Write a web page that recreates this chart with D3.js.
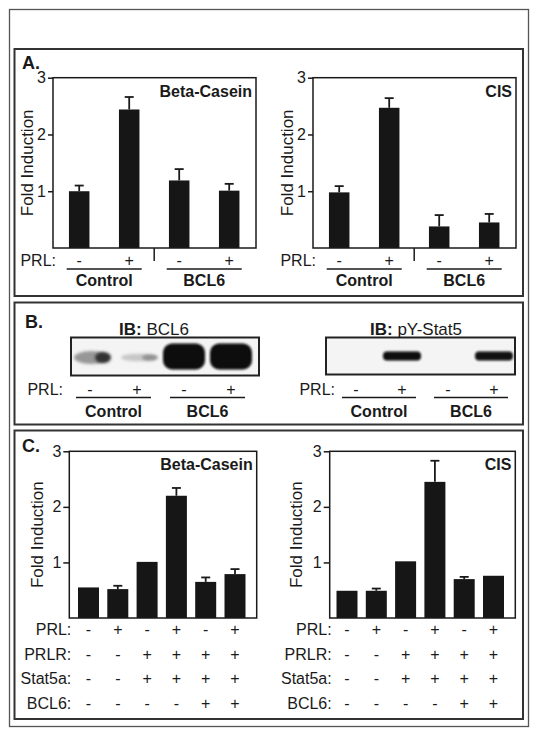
<!DOCTYPE html>
<html><head><meta charset="utf-8">
<script src="https://cdn.jsdelivr.net/npm/d3@7/dist/d3.min.js"></script>
<style>html,body{margin:0;padding:0;background:#fff}svg{display:block}</style>
</head><body>
<svg id="fig" width="538" height="736"></svg>
<script>
// ---------------- data ----------------
const yTicks = [1, 2, 3];
const groupNames = ["Control", "BCL6"];
const prlA = ["-", "+", "-", "+"];
const betaCaseinA = [1.00, 2.44, 1.19, 1.01];
const betaCaseinAErr = [0.10, 0.22, 0.20, 0.12];
const cisA = [0.98, 2.47, 0.38, 0.45];
const cisAErr = [0.11, 0.17, 0.20, 0.15];

const blotLanes = ["-", "+", "-", "+"];
const bcl6Blot = [0.45, 0.18, 1.0, 1.0];
const pStat5Blot = [0.0, 0.92, 0.0, 0.88];

const rowLabelsC = ["PRL:", "PRLR:", "Stat5a:", "BCL6:"];
const prlC = ["-", "+", "-", "+", "-", "+"];
const prlrC = ["-", "-", "+", "+", "+", "+"];
const stat5aC = ["-", "-", "+", "+", "+", "+"];
const bcl6C = ["-", "-", "-", "-", "+", "+"];
const betaCaseinC = [0.55, 0.52, 1.01, 2.20, 0.65, 0.79];
const betaCaseinCErr = [0, 0.06, 0, 0.14, 0.08, 0.09];
const cisC = [0.49, 0.49, 1.02, 2.45, 0.70, 0.76];
const cisCErr = [0, 0.04, 0, 0.38, 0.04, 0];

// ---------------- drawing ----------------
const svg = d3.select("#fig");
const FONT = "'Liberation Sans', Arial, Helvetica, sans-serif";
const INK = "#1a1a1a";

const defs = svg.append("defs");
defs.append("filter").attr("id", "b1").attr("x", "-20%").attr("y", "-50%").attr("width", "140%").attr("height", "200%")
  .append("feGaussianBlur").attr("stdDeviation", 1.0);
defs.append("filter").attr("id", "b2").attr("x", "-30%").attr("y", "-80%").attr("width", "160%").attr("height", "260%")
  .append("feGaussianBlur").attr("stdDeviation", 1.8);

svg.append("rect").attr("width", 538).attr("height", 736).attr("fill", "#fff");

function txt(x, y, s, o = {}) {
  return svg.append("text").attr("x", x).attr("y", y).text(s)
    .attr("font-family", FONT).attr("font-size", o.size || 16)
    .attr("font-weight", o.bold ? "bold" : "normal")
    .attr("text-anchor", o.anchor || "start").attr("fill", INK);
}
function hline(x1, x2, y, w = 1.5) {
  svg.append("line").attr("x1", x1).attr("x2", x2).attr("y1", y).attr("y2", y)
    .attr("stroke", INK).attr("stroke-width", w);
}

// outer border and panel frames
svg.append("rect").attr("x", 9.5).attr("y", 9.5).attr("width", 519).attr("height", 717)
  .attr("fill", "none").attr("stroke", "#555").attr("stroke-width", 1.3);
[[49, 296], [302.5, 424.5], [430.5, 719]].forEach(([t, b]) =>
  svg.append("rect").attr("x", 14.5).attr("y", t).attr("width", 508.5).attr("height", b - t)
    .attr("fill", "none").attr("stroke", "#333").attr("stroke-width", 2));

txt(22, 69, "A.", { bold: true, size: 18 });
txt(25, 327.5, "B.", { bold: true, size: 18 });
txt(22, 452, "C.", { bold: true, size: 18 });

function barChart(o) {
  const n = o.values.length;
  const p = 1 - o.bw / o.step;
  const x = d3.scaleBand().domain(d3.range(n))
    .range([o.c0 - o.step / 2, o.c0 - o.step / 2 + n * o.step])
    .paddingInner(p).paddingOuter(p / 2);
  const y = d3.scaleLinear().domain([0, 3]).range([o.bottom, o.top]);
  const g = svg.append("g");
  g.selectAll("rect.bar").data(o.values).join("rect").attr("class", "bar")
    .attr("x", (d, i) => x(i)).attr("width", x.bandwidth())
    .attr("y", d => y(d)).attr("height", d => y(0) - y(d)).attr("fill", "#161616");
  const eb = o.values.map((v, i) => ({ v, e: o.errs[i], i })).filter(d => d.e > 0);
  const cx = i => x(i) + x.bandwidth() / 2;
  g.selectAll("line.stem").data(eb).join("line")
    .attr("x1", d => cx(d.i)).attr("x2", d => cx(d.i))
    .attr("y1", d => y(d.v)).attr("y2", d => y(d.v + d.e))
    .attr("stroke", INK).attr("stroke-width", 1.8);
  g.selectAll("line.cap").data(eb).join("line")
    .attr("x1", d => cx(d.i) - 4.5).attr("x2", d => cx(d.i) + 4.5)
    .attr("y1", d => y(d.v + d.e)).attr("y2", d => y(d.v + d.e))
    .attr("stroke", INK).attr("stroke-width", 1.8);
  const axis = d3.axisLeft(y).tickValues(yTicks).tickSize(o.tick || 5).tickPadding(2).tickFormat(d3.format("d"));
  const ag = g.append("g").attr("transform", `translate(${o.left},0)`).call(axis);
  ag.select(".domain").remove();
  ag.attr("font-family", FONT).attr("font-size", 16);
  ag.selectAll("line").attr("stroke", INK).attr("stroke-width", 1.5);
  ag.selectAll("text").attr("fill", INK);
  g.append("rect").attr("x", o.left).attr("y", o.top).attr("width", o.right - o.left)
    .attr("height", o.bottom - o.top).attr("fill", "none").attr("stroke", INK).attr("stroke-width", 1.5);
  txt(o.right - 4, o.top + 19, o.title, { bold: true, anchor: "end" });
  svg.append("text").attr("transform", `translate(${o.ylab},${(o.top + o.bottom) / 2}) rotate(-90)`)
    .attr("text-anchor", "middle").attr("font-family", FONT).attr("font-size", 17).attr("fill", INK)
    .text("Fold Induction");
  return { x, y, cx };
}

// ---------- Panel A ----------
[{ left: 53, right: 256, c0: 79.2, ylab: 33, values: betaCaseinA, errs: betaCaseinAErr, title: "Beta-Casein" },
 { left: 313, right: 516, c0: 339.2, ylab: 293, values: cisA, errs: cisAErr, title: "CIS" }]
  .forEach(cfg => {
    const c = barChart(Object.assign({ top: 77.7, bottom: 248, step: 50, bw: 20.5 }, cfg));
    txt(cfg.left + 3, 266, "PRL:", { anchor: "end" });
    prlA.forEach((s, i) => txt(c.cx(i), 266, s, { anchor: "middle" }));
    const mid = (c.cx(1) + c.cx(2)) / 2;
    svg.append("line").attr("x1", mid).attr("x2", mid).attr("y1", 248).attr("y2", 261)
      .attr("stroke", INK).attr("stroke-width", 1.5);
    groupNames.forEach((gname, k) => {
      const a = c.cx(2 * k), b = c.cx(2 * k + 1);
      hline(a - 12.5, b + 12.5, 269);
      txt((a + b) / 2, 285.5, gname, { bold: true, anchor: "middle" });
    });
  });

// ---------- Panel B ----------
function blot(o) {
  const lane = d3.scalePoint().domain(d3.range(blotLanes.length)).range(o.lanes);
  svg.append("rect").attr("x", o.left).attr("y", o.top).attr("width", o.right - o.left)
    .attr("height", o.bottom - o.top).attr("fill", "#f4f4f4");
  const cy = (o.top + o.bottom) / 2;
  const shade = d3.interpolateRgb("#e6e6e6", "#0a0a0a");
  o.signal.forEach((s, i) => {
    if (s <= 0) return;
    const cx = lane(i) + (o.shift ? o.shift[i] : 0);
    if (o.kind === "strong" && s >= 0.9) {
      svg.append("rect").attr("x", cx - 21).attr("y", cy - 13).attr("width", 42).attr("height", 26)
        .attr("rx", 9).attr("fill", "#0b0b0b").attr("filter", "url(#b1)");
    } else if (o.kind === "strong") {
      svg.append("ellipse").attr("cx", cx - 3).attr("cy", cy + 1).attr("rx", 17).attr("ry", 2 + s * 10)
        .attr("fill", shade(s * 0.9)).attr("opacity", 0.9).attr("filter", "url(#b2)");
      svg.append("ellipse").attr("cx", cx + 9).attr("cy", cy + 1).attr("rx", 8).attr("ry", 1.5 + s * 9)
        .attr("fill", shade(Math.min(1, s * 1.6 + 0.1))).attr("filter", "url(#b2)");
    } else {
      svg.append("rect").attr("x", cx - 19).attr("y", cy - 4.5).attr("width", 38).attr("height", 9)
        .attr("rx", 4).attr("fill", "#0d0d0d").attr("opacity", Math.min(1, s + 0.1)).attr("filter", "url(#b1)");
    }
  });
  svg.append("rect").attr("x", o.left).attr("y", o.top).attr("width", o.right - o.left)
    .attr("height", o.bottom - o.top).attr("fill", "none").attr("stroke", "#222").attr("stroke-width", 2);
  const t = svg.append("text").attr("x", o.labX).attr("y", 335).attr("font-family", FONT).attr("font-size", 17).attr("fill", INK);
  t.append("tspan").attr("font-weight", "bold").text("IB:");
  t.append("tspan").text(" " + o.target);
  txt(o.prlX, 395, "PRL:", { anchor: "end" });
  blotLanes.forEach((s, i) => txt(lane(i), 395, s, { anchor: "middle" }));
  groupNames.forEach((gname, k) => {
    const a = lane(2 * k), b = lane(2 * k + 1);
    hline(a - 14, b + 14, 397.5);
    txt((a + b) / 2, 416.5, gname, { bold: true, anchor: "middle" });
  });
}
blot({ left: 71, right: 259, top: 337.5, bottom: 375.5, lanes: [90, 231], signal: bcl6Blot, kind: "strong",
  shift: [4, 4, 0, 0], target: "BCL6", labX: 119, prlX: 63 });
blot({ left: 326, right: 515, top: 337.5, bottom: 374.5, lanes: [356, 494], signal: pStat5Blot, kind: "thin",
  target: "pY-Stat5", labX: 370, prlX: 335 });

// ---------- Panel C ----------
const rowsC = [prlC, prlrC, stat5aC, bcl6C];
const rowY = [634.5, 659.5, 683.5, 709];
[{ left: 69.3, right: 256.7, c0: 88.5, ylab: 43, values: betaCaseinC, errs: betaCaseinCErr, title: "Beta-Casein" },
 { left: 329.7, right: 515.3, c0: 347, ylab: 302, values: cisC, errs: cisCErr, title: "CIS" }]
  .forEach(cfg => {
    const c = barChart(Object.assign({ top: 451.3, bottom: 618, step: 29.3, bw: 21, tick: 6 }, cfg));
    rowsC.forEach((row, r) => {
      txt(cfg.left + 2, rowY[r], rowLabelsC[r], { anchor: "end" });
      row.forEach((s, i) => txt(c.cx(i), rowY[r], s, { anchor: "middle" }));
    });
  });
</script>
</body></html>
